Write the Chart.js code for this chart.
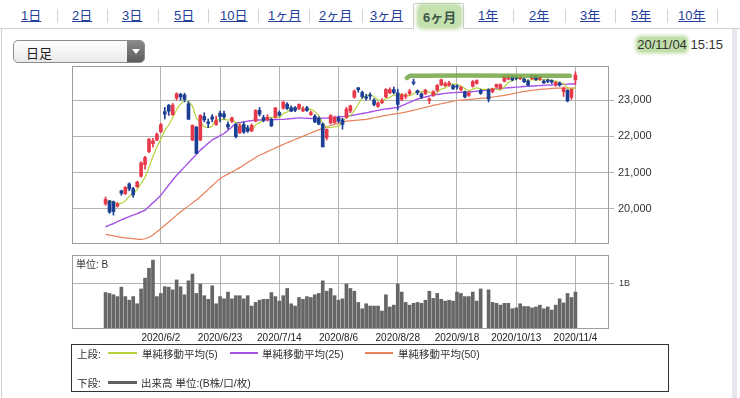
<!DOCTYPE html>
<html lang="ja">
<head>
<meta charset="utf-8">
<title>日足 6ヶ月</title>
<script src="https://cdn.jsdelivr.net/npm/chart.js@4.4.1/dist/chart.umd.min.js"></script>
<style>
  html, body { margin: 0; padding: 0; background: #fff; }
  body {
    width: 740px; height: 398px; position: relative; overflow: hidden;
    font-family: "Liberation Sans", Arial, "Noto Sans CJK JP", sans-serif; color: #333;
  }
  .tab { position: absolute; top: 7px; font-size: 13px; line-height: 18px; color: #24409a; text-decoration: underline; }
  .sep { position: absolute; top: 9px; width: 1px; height: 14px; background: #d6d6d6; }
  #topline { position: absolute; left: 0; top: 28px; width: 740px; height: 1px; background: #cfcfcf; }
  #leftline { position: absolute; left: 1px; top: 28px; width: 1px; height: 370px; background: #cfcfcf; }
  #rightband { position: absolute; left: 732px; top: 29px; width: 5px; height: 369px; background: #e7e7ee; }
  #active {
    position: absolute; left: 413px; top: 3px; width: 49px; height: 25px;
    border: 1px solid #cfcfcf; border-bottom: none; background: #fff; border-radius: 2px 2px 0 0;
  }
  #active span {
    position: absolute; left: 4px; top: 1px; padding: 2px 5px; font-size: 13px; font-weight: bold;
    color: #3c5546; background: rgba(150, 200, 110, 0.55); border-radius: 5px;
    box-shadow: 0 0 3px 2px rgba(150, 200, 110, 0.45);
  }
  #select {
    position: absolute; left: 13px; top: 40px; width: 130px; height: 21px;
    border: 1px solid #8c8c8c; border-radius: 5px; overflow: hidden;
    background: linear-gradient(#ffffff, #e9e9e9);
  }
  #select .txt { position: absolute; left: 12px; top: 2px; font-size: 13px; color: #222; }
  #select .btn { position: absolute; right: 0; top: 0; width: 17px; height: 21px; background: linear-gradient(#8a8a8a, #5a5a5a); }
  #select .btn::after {
    content: ""; position: absolute; left: 5px; top: 8px;
    border-left: 4px solid transparent; border-right: 4px solid transparent; border-top: 5px solid #fff;
  }
  #stamp { position: absolute; right: 17px; top: 37px; font-size: 13px; color: #333; }
  #stamp .hl { background: rgba(150, 200, 110, 0.6); border-radius: 4px; box-shadow: 0 0 3px 2px rgba(150, 200, 110, 0.45); }
  canvas { position: absolute; left: 0; }
  #price { top: 54px; }
  #volume { top: 243px; }
  #unit { position: absolute; left: 76px; top: 256px; font-size: 10px; color: #333; }
  #legend {
    position: absolute; left: 71px; top: 344px; width: 596px; height: 46px;
    border: 1px solid #333; font-size: 10.5px; color: #333;
  }
  #legend .t { position: absolute; white-space: nowrap; }
  #legend .ln { position: absolute; display: block; height: 2px; }
</style>
</head>
<body>
<div id="topline"></div>
<div id="leftline"></div>
<div id="rightband"></div>

<span class="tab" style="left:21px">1日</span><span class="sep" style="left:57px"></span>
<span class="tab" style="left:72px">2日</span><span class="sep" style="left:107px"></span>
<span class="tab" style="left:122px">3日</span><span class="sep" style="left:158px"></span>
<span class="tab" style="left:174px">5日</span><span class="sep" style="left:208px"></span>
<span class="tab" style="left:220px">10日</span><span class="sep" style="left:258px"></span>
<span class="tab" style="left:268px">1ヶ月</span><span class="sep" style="left:309px"></span>
<span class="tab" style="left:319px">2ヶ月</span><span class="sep" style="left:362px"></span>
<span class="tab" style="left:370px">3ヶ月</span>
<div id="active"><span>6ヶ月</span></div>
<span class="tab" style="left:478px">1年</span><span class="sep" style="left:513px"></span>
<span class="tab" style="left:529px">2年</span><span class="sep" style="left:565px"></span>
<span class="tab" style="left:580px">3年</span><span class="sep" style="left:615px"></span>
<span class="tab" style="left:631px">5年</span><span class="sep" style="left:667px"></span>
<span class="tab" style="left:678px">10年</span><span class="sep" style="left:717px"></span>

<div id="select"><span class="txt">日足</span><span class="btn"></span></div>
<div id="stamp"><span class="hl">20/11/04</span> 15:15</div>

<canvas id="price" width="665" height="202"></canvas>
<canvas id="volume" width="665" height="116"></canvas>
<div id="unit">単位: B</div>

<div id="legend">
  <span class="t" style="left:5px;top:1px">上段:</span>
  <span class="ln" style="left:36px;top:7px;width:29px;background:#b5d43b"></span>
  <span class="t" style="left:70px;top:1px">単純移動平均(5)</span>
  <span class="ln" style="left:158px;top:7px;width:28px;background:#a453e6"></span>
  <span class="t" style="left:190px;top:1px">単純移動平均(25)</span>
  <span class="ln" style="left:293px;top:7px;width:28px;background:#e8825c"></span>
  <span class="t" style="left:326px;top:1px">単純移動平均(50)</span>
  <span class="t" style="left:5px;top:30px">下段:</span>
  <span class="ln" style="left:36px;top:36px;width:29px;height:3px;background:#5f5f5f"></span>
  <span class="t" style="left:69px;top:30px">出来高 単位:(B株/口/枚)</span>
</div>

<script>
// 日足 OHLC（左から 2020/5/13 〜 2020/11/4、10/1 は売買停止で空き）
const opens = [
  20140, 20220, 20200, 20080, 20500, 20420, 20690, 20560, 20610, 20900,
  21220, 21580, 21800, 21900, 22130, 22680, 22860, 22600, 23050, 23160,
  23140, 22900, 21900, 22260, 21900, 22550, 22400, 22540, 22330, 22640,
  22620, 22330, 22420, 22330, 22100, 22330, 22240, 22150, 22420, 22720,
  22520, 22460, 22470, 22540, 22660, 22780, 22890, 22790, 22790, 22770,
  22700, 22790, 22600, 22560, 22510, 22340, 21960, 22370, 22380, 22510,
  22460, 22520, 22700, 23080, 23340, 23210, 23090, 23140, 23000, 22830,
  22930, 23090, 23200, 23290, 23200, 23020, 23100, 23180, 23500, 23260,
  23170, 23180, 22990, 23130, 23270, 23420, 23400, 23410, 23400, 23390,
  23290, 23230, 23130, 23380, 23460, 23270, null, 23290, 23230, 23360,
  23330, 23520, 23580, 23640, 23630, 23590, 23580, 23520, 23590, 23640,
  23570, 23520, 23550, 23540, 23420, 23470, 23230, 23270, 23080, 23560,
];
const highs = [
  20330, 20240, 20220, 20180, 20520, 20620, 20720, 20600, 20760, 21300,
  21450, 21950, 21950, 22100, 22360, 22800, 22880, 22910, 23200, 23190,
  23190, 22960, 22320, 22270, 22600, 22650, 22480, 22600, 22560, 22700,
  22700, 22400, 22530, 22350, 22350, 22400, 22300, 22340, 22740, 22800,
  22580, 22600, 22500, 22800, 22700, 22960, 22930, 22840, 22820, 22900,
  22820, 22830, 22700, 22600, 22540, 22370, 22210, 22600, 22560, 22560,
  22500, 22800, 22860, 23280, 23350, 23250, 23160, 23200, 23040, 22950,
  23040, 23320, 23340, 23360, 23300, 23180, 23180, 23300, 23580, 23280,
  23200, 23300, 23060, 23260, 23430, 23580, 23500, 23520, 23430, 23420,
  23380, 23250, 23230, 23540, 23560, 23300, null, 23310, 23330, 23440,
  23450, 23660, 23700, 23680, 23660, 23660, 23600, 23560, 23690, 23680,
  23660, 23560, 23580, 23560, 23510, 23500, 23360, 23290, 23310, 23780,
];
const lows = [
  20100, 19880, 19830, 20050, 20380, 20400, 20500, 20320, 20600, 20880,
  21100, 21550, 21700, 21880, 22100, 22480, 22580, 22580, 23000, 23000,
  22950, 22470, 21880, 21530, 21880, 22400, 22240, 22400, 22300, 22400,
  22480, 22200, 22380, 21960, 22080, 22080, 22110, 22130, 22400, 22560,
  22400, 22420, 22270, 22500, 22560, 22750, 22740, 22680, 22680, 22740,
  22680, 22690, 22580, 22380, 22320, 21710, 21900, 22340, 22360, 22380,
  22200, 22500, 22650, 23050, 23220, 23050, 23000, 23020, 22840, 22800,
  22900, 23070, 23180, 23170, 22730, 22980, 23040, 23140, 23420, 23150,
  23040, 23150, 22900, 23100, 23240, 23400, 23380, 23380, 23290, 23300,
  23250, 23060, 23100, 23360, 23440, 23160, null, 22950, 23200, 23330,
  23300, 23500, 23560, 23530, 23560, 23560, 23480, 23390, 23570, 23540,
  23550, 23460, 23480, 23460, 23380, 23380, 23100, 22950, 23020, 23420,
];
const closes = [
  20267, 19914, 19930, 20133, 20433, 20595, 20552, 20388, 20741, 21271,
  21419, 21916, 21877, 22062, 22325, 22613, 22695, 22863, 23178, 23091,
  23020, 22472, 22305, 21530, 22582, 22455, 22355, 22478, 22437, 22549,
  22534, 22260, 22512, 21995, 22288, 22122, 22145, 22306, 22714, 22614,
  22438, 22529, 22291, 22784, 22587, 22945, 22770, 22696, 22717, 22884,
  22751, 22715, 22657, 22397, 22339, 21710, 22195, 22573, 22514, 22418,
  22329, 22750, 22843, 23250, 23289, 23097, 23051, 23110, 22880, 22920,
  22985, 23296, 23290, 23209, 22882, 23140, 23138, 23247, 23465, 23205,
  23089, 23274, 23032, 23235, 23406, 23559, 23454, 23475, 23319, 23360,
  23346, 23087, 23204, 23511, 23539, 23185, null, 23029, 23312, 23433,
  23422, 23647, 23619, 23558, 23601, 23626, 23507, 23410, 23671, 23567,
  23639, 23474, 23516, 23494, 23485, 23418, 23331, 22977, 23295, 23695,
];

// 出来高（単位: B）
const volumes = [
  0.81, 0.79, 0.76, 0.72, 0.93, 0.72, 0.64, 0.72, 0.56, 0.89,
  1.13, 1.35, 1.53, 0.72, 0.79, 0.94, 0.93, 0.87, 1.09, 0.94,
  0.76, 1.07, 1.22, 0.79, 1.00, 0.74, 0.66, 0.96, 0.56, 0.72,
  0.67, 0.82, 0.67, 0.74, 0.74, 0.67, 0.74, 0.51, 0.59, 0.64,
  0.66, 0.66, 0.81, 0.72, 0.62, 0.74, 0.90, 0.56, 0.51, 0.70,
  0.66, 0.72, 0.70, 0.76, 0.79, 1.07, 0.84, 0.90, 0.74, 0.64,
  0.67, 1.00, 0.90, 0.84, 0.59, 0.45, 0.56, 0.51, 0.51, 0.51,
  0.40, 0.76, 0.49, 0.53, 1.00, 0.82, 0.59, 0.53, 0.57, 0.59,
  0.57, 0.64, 0.84, 0.68, 0.79, 0.66, 0.62, 0.64, 0.62, 0.82,
  0.79, 0.72, 0.72, 0.82, 0.62, 0.89, null, 0.87, 0.59, 0.57,
  0.53, 0.57, 0.57, 0.45, 0.47, 0.56, 0.50, 0.50, 0.47, 0.49,
  0.53, 0.45, 0.49, 0.42, 0.53, 0.67, 0.58, 0.79, 0.70, 0.82,
];

// 単純移動平均（図から読んだ値）
const ma5 = [
  20175, 20223, 20195, 20143, 20157, 20222, 20350, 20420, 20542, 20709,
  20874, 21147, 21445, 21709, 21920, 22159, 22314, 22512, 22735, 22888,
  22990, 22946, 22834, 22504, 22403, 22269, 22245, 22280, 22461, 22455,
  22471, 22452, 22458, 22370, 22318, 22235, 22212, 22171, 22315, 22380,
  22443, 22520, 22517, 22531, 22526, 22627, 22675, 22756, 22743, 22802,
  22764, 22753, 22745, 22681, 22572, 22364, 22260, 22243, 22266, 22282,
  22406, 22517, 22571, 22718, 22892, 23046, 23106, 23159, 23085, 23012,
  22989, 23038, 23074, 23140, 23132, 23163, 23132, 23123, 23174, 23239,
  23229, 23256, 23213, 23167, 23207, 23301, 23337, 23426, 23443, 23433,
  23391, 23317, 23263, 23302, 23337, 23305, null, 23294, 23315, 23300,
  23276, 23369, 23487, 23536, 23569, 23610, 23582, 23540, 23563, 23556,
  23559, 23552, 23573, 23538, 23522, 23477, 23449, 23341, 23301, 23343,
];
const ma25 = [
  19510, 19555, 19600, 19650, 19700, 19745, 19790, 19830, 19870, 19920,
  19970, 20070, 20170, 20270, 20380, 20520, 20660, 20800, 20930, 21045,
  21160, 21275, 21390, 21505, 21620, 21715, 21810, 21900, 21960, 22020,
  22080, 22170, 22260, 22360, 22380, 22400, 22420, 22435, 22450, 22453,
  22456, 22459, 22462, 22465, 22468, 22470, 22480, 22490, 22500, 22510,
  22505, 22500, 22495, 22490, 22495, 22500, 22505, 22510, 22522, 22534,
  22546, 22558, 22570, 22590, 22610, 22630, 22650, 22672, 22695, 22718,
  22740, 22755, 22770, 22785, 22800, 22846, 22892, 22938, 22984, 23030,
  23058, 23085, 23112, 23140, 23155, 23170, 23185, 23200, 23205, 23210,
  23215, 23220, 23225, 23235, 23245, 23255, null, 23278, 23291, 23304,
  23317, 23330, 23339, 23348, 23357, 23366, 23375, 23381, 23387, 23394,
  23400, 23406, 23412, 23418, 23425, 23430, 23435, 23440, 23445, 23450,
];
const ma50 = [
  19300, 19280, 19260, 19240, 19220, 19205, 19195, 19185, 19170, 19165,
  19180, 19220, 19290, 19370, 19460, 19550, 19640, 19735, 19830, 19915,
  20000, 20085, 20165, 20245, 20340, 20440, 20540, 20640, 20740, 20840,
  20900, 20960, 21020, 21080, 21140, 21210, 21280, 21350, 21420, 21480,
  21530, 21580, 21630, 21680, 21730, 21780, 21825, 21870, 21915, 21960,
  22005, 22050, 22095, 22140, 22180, 22220, 22260, 22300, 22330, 22360,
  22390, 22420, 22430, 22440, 22450, 22460, 22470, 22492, 22514, 22536,
  22560, 22578, 22596, 22614, 22632, 22650, 22670, 22696, 22722, 22748,
  22774, 22800, 22827, 22854, 22877, 22900, 22923, 22946, 22969, 22990,
  22999, 23008, 23018, 23028, 23037, 23046, null, 23070, 23085, 23100,
  23115, 23129, 23151, 23173, 23195, 23217, 23239, 23253, 23267, 23281,
  23294, 23303, 23312, 23321, 23330, 23331, 23331, 23331, 23332, 23335,
];

// 目盛り
const tickIndex = [14, 29, 44, 59, 74, 89, 104, 119];
const tickLabels = ["2020/6/2", "2020/6/23", "2020/7/14", "2020/8/6", "2020/8/28", "2020/9/18", "2020/10/13", "2020/11/4"];
const priceTicks = [20000, 21000, 22000, 23000];
const volumeTicks = [1];

// 手書きの緑のマーカー線
const markIndex = [76.3, 77.2, 117.6];
const markValue = [23610, 23668, 23668];

const UP = "#e8394a";
const DOWN = "#1c3f94";
const GRID = "#b3b3b3";
const FRAME = "#9d9d9d";

const X_MIN = -8.5;
const X_MAX = 127.5;

// 枠線
const framePlugin = {
  id: "frame",
  afterDraw(chart) {
    const a = chart.chartArea;
    const ctx = chart.ctx;
    ctx.save();
    ctx.strokeStyle = FRAME;
    ctx.lineWidth = 1;
    ctx.strokeRect(a.left + 0.5, a.top + 0.5, a.right - a.left - 1, a.bottom - a.top - 1);
    ctx.restore();
  },
};

function pts(arr) {
  return arr.map((v, i) => ({ x: i, y: v }));
}

const candles = [];
opens.forEach((o, i) => {
  if (o == null) return;
  candles.push({ i, o, h: highs[i], l: lows[i], c: closes[i], col: closes[i] >= o ? UP : DOWN });
});

function xScale(showLabels) {
  return {
    type: "linear",
    min: X_MIN,
    max: X_MAX,
    offset: false,
    afterBuildTicks: (s) => { s.ticks = tickIndex.map((v) => ({ value: v })); },
    afterFit: (s) => { s.height = showLabels ? 18 : 0; },
    grid: { color: GRID, drawTicks: false, offset: false },
    border: { display: false },
    ticks: {
      display: showLabels,
      autoSkip: false,
      maxRotation: 0,
      padding: 3,
      color: "#222",
      font: { family: "'Liberation Sans', Arial, sans-serif", size: 10 },
      callback: (v, idx) => tickLabels[idx],
    },
  };
}

new Chart(document.getElementById("price"), {
  type: "bar",
  data: {
    datasets: [
      {
        type: "line",
        data: markIndex.map((x, k) => ({ x, y: markValue[k] })),
        borderColor: "rgba(115, 163, 68, 0.85)",
        borderWidth: 4.5,
        borderCapStyle: "round",
        pointRadius: 0,
        tension: 0.3,
      },
      {
        data: candles.map((d) => ({ x: d.i, y: [d.o, d.c] })),
        backgroundColor: candles.map((d) => d.col),
        barThickness: 3,
        grouped: false,
        minBarLength: 1,
      },
      {
        data: candles.map((d) => ({ x: d.i, y: [d.l, d.h] })),
        backgroundColor: candles.map((d) => d.col),
        barThickness: 1,
        grouped: false,
      },
      {
        type: "line",
        data: pts(ma5),
        borderColor: "#b5d43b",
        borderWidth: 1.2,
        pointRadius: 0,
        spanGaps: true,
        cubicInterpolationMode: "monotone",
      },
      {
        type: "line",
        data: pts(ma25),
        borderColor: "#a453e6",
        borderWidth: 1.4,
        pointRadius: 0,
        spanGaps: true,
        cubicInterpolationMode: "monotone",
      },
      {
        type: "line",
        data: pts(ma50),
        borderColor: "#e8825c",
        borderWidth: 1.2,
        pointRadius: 0,
        spanGaps: true,
        cubicInterpolationMode: "monotone",
      },
    ],
  },
  options: {
    responsive: false,
    animation: false,
    events: [],
    layout: { padding: { left: 72, top: 12, bottom: 12, right: 0 } },
    plugins: { legend: { display: false }, tooltip: { enabled: false } },
    scales: {
      x: xScale(false),
      y: {
        position: "right",
        min: 19035,
        max: 23940,
        afterBuildTicks: (s) => { s.ticks = priceTicks.map((v) => ({ value: v })); },
        afterFit: (s) => { s.width = 56; },
        grid: { color: GRID, tickLength: 5 },
        border: { display: false },
        ticks: {
          padding: 4,
          color: "#333",
          font: { family: "'Liberation Sans', Arial, sans-serif", size: 11 },
          callback: (v) => v.toLocaleString("en-US"),
        },
      },
    },
  },
  plugins: [framePlugin],
});

const volPts = [];
volumes.forEach((v, i) => { if (v != null) volPts.push({ x: i, y: v }); });

new Chart(document.getElementById("volume"), {
  type: "bar",
  data: {
    datasets: [
      {
        data: volPts,
        backgroundColor: "#666666",
        barThickness: 3,
      },
    ],
  },
  options: {
    responsive: false,
    animation: false,
    events: [],
    layout: { padding: { left: 72, top: 12, bottom: 12, right: 0 } },
    plugins: { legend: { display: false }, tooltip: { enabled: false } },
    scales: {
      x: xScale(true),
      y: {
        position: "right",
        min: 0,
        max: 1.644,
        afterBuildTicks: (s) => { s.ticks = volumeTicks.map((v) => ({ value: v })); },
        afterFit: (s) => { s.width = 56; },
        grid: { color: GRID, tickLength: 5 },
        border: { display: false },
        ticks: {
          padding: 5,
          color: "#333",
          font: { family: "'Liberation Sans', Arial, sans-serif", size: 9 },
          callback: (v) => v + "B",
        },
      },
    },
  },
  plugins: [framePlugin],
});
</script>
</body>
</html>
